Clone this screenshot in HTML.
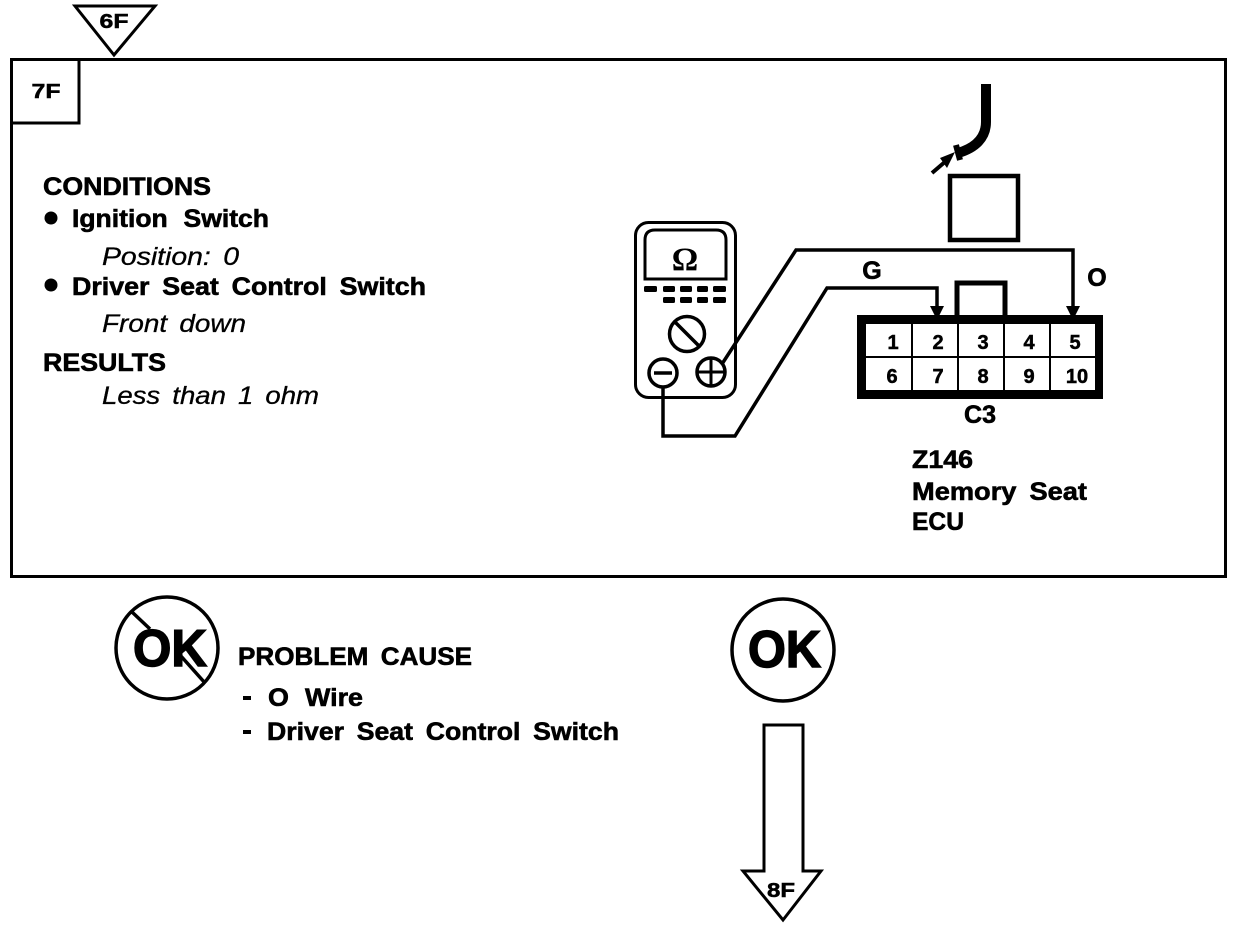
<!DOCTYPE html>
<html>
<head>
<meta charset="utf-8">
<style>
html,body{margin:0;padding:0;background:#fff;width:1248px;height:930px;overflow:hidden}
svg{display:block}
text{font-family:"Liberation Sans",sans-serif;fill:#000}
.b{font-weight:bold;font-size:25px;stroke:#000;stroke-width:.6px;word-spacing:5px}
.i{font-style:italic;font-size:25px;stroke:#000;stroke-width:.3px;word-spacing:4px}
.d{font-weight:bold;font-size:20px;text-anchor:middle;stroke:#000;stroke-width:.5px}
.l{fill:none;stroke:#000}
</style>
</head>
<body>
<svg width="1248" height="930" viewBox="0 0 1248 930" xmlns="http://www.w3.org/2000/svg">
<!-- top triangle -->
<polygon class="l" stroke-width="3" points="75,6 155,6 114,55"/>
<text class="d" x="114" y="28" textLength="29" lengthAdjust="spacingAndGlyphs">6F</text>
<!-- main box -->
<rect class="l" x="11.5" y="59.5" width="1214" height="517" stroke-width="3"/>
<path class="l" d="M13 123H79V59" stroke-width="3"/>
<text class="d" x="46" y="98" textLength="29" lengthAdjust="spacingAndGlyphs">7F</text>
<!-- left text -->
<text class="b" x="43" y="195" textLength="168" lengthAdjust="spacingAndGlyphs">CONDITIONS</text>
<circle cx="51" cy="218" r="6.5"/>
<text class="b" x="72" y="227" textLength="197" lengthAdjust="spacingAndGlyphs" style="word-spacing:8px">Ignition Switch</text>
<text class="i" x="102" y="265" textLength="137" lengthAdjust="spacingAndGlyphs">Position: 0</text>
<circle cx="51" cy="285" r="6.5"/>
<text class="b" x="72" y="295" textLength="354" lengthAdjust="spacingAndGlyphs">Driver Seat Control Switch</text>
<text class="i" x="102" y="332" textLength="144" lengthAdjust="spacingAndGlyphs">Front down</text>
<text class="b" x="43" y="371" textLength="123" lengthAdjust="spacingAndGlyphs">RESULTS</text>
<text class="i" x="102" y="404" textLength="217" lengthAdjust="spacingAndGlyphs">Less than 1 ohm</text>
<!-- probe wire -->
<path class="l" d="M986 84V122C986 138 975 148 958 153" stroke-width="10"/>
<path class="l" d="M956 145L960 160" stroke-width="6"/>
<path class="l" d="M932 173L946 161" stroke-width="4"/>
<polygon points="940,158 955,152 947,168"/>
<!-- square -->
<rect class="l" x="950" y="176" width="68" height="64" stroke-width="4.5"/>
<!-- meter -->
<rect class="l" x="635.5" y="222.5" width="100" height="175" rx="13" stroke-width="3"/>
<path class="l" d="M645 279V240Q645 230 655 230H716Q726 230 726 240V279Z" stroke-width="3"/>
<text x="685" y="270" text-anchor="middle" font-size="33" font-weight="bold" style="font-family:'Liberation Serif',serif">Ω</text>
<g>
<rect x="644" y="286" width="13" height="6" rx="1.5"/>
<rect x="663" y="286" width="12" height="6" rx="1.5"/>
<rect x="680" y="286" width="12" height="6" rx="1.5"/>
<rect x="697" y="286" width="11" height="6" rx="1.5"/>
<rect x="713" y="286" width="13" height="6" rx="1.5"/>
<rect x="663" y="297" width="12" height="6" rx="1.5"/>
<rect x="680" y="297" width="12" height="6" rx="1.5"/>
<rect x="697" y="297" width="11" height="6" rx="1.5"/>
<rect x="713" y="297" width="13" height="6" rx="1.5"/>
</g>
<circle class="l" cx="687" cy="334" r="17.5" stroke-width="3.5"/>
<path class="l" d="M675 322L699 346" stroke-width="3.5"/>
<circle class="l" cx="663" cy="373" r="14" fill="#fff" stroke-width="3.5"/>
<path class="l" d="M654 373H672" stroke-width="3.5"/>
<circle class="l" cx="711" cy="372" r="14" stroke-width="3.5"/>
<path class="l" d="M697 372H725M711 358V386" stroke-width="3"/>
<!-- wires -->
<path class="l" d="M722 364L796 250H1073V312" stroke-width="3.5"/>
<path class="l" d="M663 387V436H735L827 288H937V312" stroke-width="3.5"/>
<polygon points="930,306 944,306 937,320"/>
<polygon points="1066,306 1080,306 1073,320"/>
<text class="b" x="872" y="279" text-anchor="middle">G</text>
<text class="b" x="1097" y="286" text-anchor="middle">O</text>
<!-- connector -->
<path class="l" d="M957 316V283H1005V316" stroke-width="5"/>
<path fill-rule="evenodd" d="M857 315H1103V399H857ZM866 324V390H1095V324Z"/>
<path class="l" d="M866 357H1095M912 324V390M958 324V390M1004 324V390M1050 324V390" stroke-width="2"/>
<text class="d" x="893" y="349">1</text>
<text class="d" x="938" y="349">2</text>
<text class="d" x="983" y="349">3</text>
<text class="d" x="1029" y="349">4</text>
<text class="d" x="1075" y="349">5</text>
<text class="d" x="892" y="383">6</text>
<text class="d" x="938" y="383">7</text>
<text class="d" x="983" y="383">8</text>
<text class="d" x="1029" y="383">9</text>
<text class="d" x="1077" y="383">10</text>
<text class="b" x="964" y="423" textLength="32" lengthAdjust="spacingAndGlyphs">C3</text>
<text class="b" x="912" y="468" textLength="61" lengthAdjust="spacingAndGlyphs">Z146</text>
<text class="b" x="912" y="500" textLength="175" lengthAdjust="spacingAndGlyphs">Memory Seat</text>
<text class="b" x="912" y="530" textLength="52" lengthAdjust="spacingAndGlyphs">ECU</text>
<!-- no OK -->
<ellipse class="l" cx="167" cy="648" rx="51" ry="51" stroke-width="3.5"/>
<path class="l" d="M132 612L150 629M180 655L205 683" stroke-width="3.5"/>
<text x="133" y="666" font-size="52" font-weight="bold" textLength="74" lengthAdjust="spacingAndGlyphs" stroke="#000" stroke-width="1.5">OK</text>
<text class="b" x="238" y="665" textLength="234" lengthAdjust="spacingAndGlyphs">PROBLEM CAUSE</text>
<rect x="243" y="696" width="8" height="4"/>
<text class="b" x="268" y="706" textLength="95" lengthAdjust="spacingAndGlyphs" style="word-spacing:8px">O Wire</text>
<rect x="243" y="730" width="8" height="4"/>
<text class="b" x="267" y="740" textLength="352" lengthAdjust="spacingAndGlyphs">Driver Seat Control Switch</text>
<!-- OK -->
<circle class="l" cx="783" cy="650" r="51" stroke-width="3.5"/>
<text x="748" y="667" font-size="52" font-weight="bold" textLength="73" lengthAdjust="spacingAndGlyphs" stroke="#000" stroke-width="1.5">OK</text>
<!-- arrow -->
<polygon class="l" points="764,725 803,725 803,871 821,871 783,920 743,871 764,871" stroke-width="3"/>
<text class="d" x="781" y="897" textLength="28" lengthAdjust="spacingAndGlyphs">8F</text>
</svg>
</body>
</html>
